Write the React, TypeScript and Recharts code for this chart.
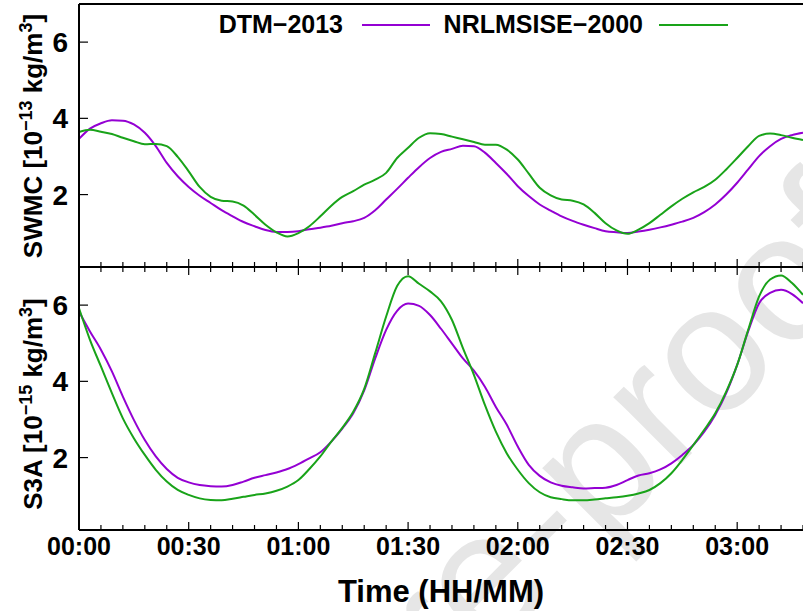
import React from 'react'
import { LineChart, Line, XAxis, YAxis } from 'recharts'

// time axis in minutes after 00:00, one sample every 3 minutes
const minutes = [
  0, 3, 6, 9, 12, 15, 18, 21, 24, 27, 30, 33, 36, 39, 42, 45, 48, 51, 54, 57,
  60, 63, 66, 69, 72, 75, 78, 81, 84, 87, 90, 93, 96, 99, 102, 105, 108, 111, 114, 117,
  120, 123, 126, 129, 132, 135, 138, 141, 144, 147, 150, 153, 156, 159, 162, 165, 168, 171, 174, 177,
  180, 183, 186, 189, 192, 195, 198,
]

// SWMC density [1e-13 kg/m^3]
const dtmSwmc = [
  3.46, 3.73, 3.87, 3.95, 3.94, 3.84, 3.62, 3.27, 2.83, 2.48, 2.2, 1.97, 1.78, 1.59, 1.43, 1.28, 1.17, 1.07, 1.02, 1.02,
  1.04, 1.09, 1.13, 1.18, 1.25, 1.3, 1.39, 1.59, 1.87, 2.15, 2.44, 2.72, 2.96, 3.12, 3.2, 3.28, 3.27, 3.1, 2.83, 2.54,
  2.22, 1.96, 1.74, 1.58, 1.43, 1.31, 1.21, 1.12, 1.04, 1.01, 0.99, 1.03, 1.08, 1.14, 1.21, 1.29, 1.39, 1.54, 1.74, 2.0,
  2.31, 2.66, 3.01, 3.27, 3.46, 3.56, 3.62,
]
const nrlSwmc = [
  3.64, 3.7, 3.65, 3.59, 3.49, 3.4, 3.32, 3.33, 3.27, 2.99, 2.61, 2.2, 1.94, 1.84, 1.82, 1.71, 1.47, 1.21, 1.01, 0.9,
  0.99, 1.17, 1.43, 1.71, 1.94, 2.09, 2.26, 2.39, 2.57, 2.96, 3.23, 3.49, 3.61, 3.59, 3.52, 3.45, 3.38, 3.31, 3.31, 3.18,
  2.92, 2.55, 2.18, 1.98, 1.87, 1.84, 1.74, 1.52, 1.25, 1.06, 0.97, 1.08, 1.25, 1.47, 1.69, 1.89, 2.06, 2.2, 2.39, 2.66,
  2.96, 3.27, 3.54, 3.6, 3.56, 3.49, 3.43,
]

// S3A density [1e-15 kg/m^3]
const dtmS3a = [
  5.83, 5.31, 4.83, 4.26, 3.6, 2.99, 2.46, 2.03, 1.7, 1.47, 1.35, 1.28, 1.25, 1.24, 1.28, 1.37, 1.47, 1.54, 1.61, 1.7,
  1.83, 1.98, 2.14, 2.42, 2.76, 3.16, 3.76, 4.6, 5.35, 5.85, 6.04, 5.98, 5.74, 5.38, 4.99, 4.6, 4.28, 3.86, 3.33, 2.86,
  2.29, 1.81, 1.52, 1.35, 1.26, 1.22, 1.19, 1.2, 1.21, 1.28, 1.41, 1.53, 1.59, 1.69, 1.85, 2.07, 2.33, 2.68, 3.12, 3.69,
  4.43, 5.31, 6.05, 6.32, 6.4, 6.29, 6.05,
]
const nrlS3a = [
  5.92, 5.09, 4.39, 3.69, 3.03, 2.51, 2.07, 1.68, 1.37, 1.15, 1.02, 0.93, 0.89, 0.88, 0.92, 0.97, 1.02, 1.06, 1.13, 1.24,
  1.41, 1.7, 2.03, 2.42, 2.78, 3.2, 3.8, 4.74, 5.7, 6.5, 6.76, 6.56, 6.36, 6.1, 5.61, 4.87, 4.17, 3.38, 2.68, 2.11,
  1.68, 1.33, 1.09, 0.96, 0.91, 0.88, 0.88, 0.9, 0.93, 0.96, 1.0, 1.06, 1.15, 1.33, 1.59, 1.94, 2.33, 2.73, 3.16, 3.73,
  4.43, 5.35, 6.23, 6.67, 6.78, 6.58, 6.27,
]

const minorTicks = [
  0, 6, 12, 18, 24, 30, 36, 42, 48, 54, 60, 66, 72, 78, 84, 90, 96, 102, 108, 114,
  120, 126, 132, 138, 144, 150, 156, 162, 168, 174, 180, 186, 192, 198,
]
const majorTicks = [0, 30, 60, 90, 120, 150, 180]
const timeLabels = ['00:00', '00:30', '01:00', '01:30', '02:00', '02:30', '03:00']
const densityTicks = [2, 4, 6]
const seriesNames = ['DTM\u22122013', 'NRLMSISE\u22122000']
const seriesColors = ['#9400d3', '#19a319']

const FONT = '"Liberation Sans", Arial, Helvetica, sans-serif'
const W = 803

const swmcData = minutes.map((t, i) => ({ t, dtm: dtmSwmc[i], nrl: nrlSwmc[i] }))
const s3aData = minutes.map((t, i) => ({ t, dtm: dtmS3a[i], nrl: nrlS3a[i] }))

const makeTimeTick = (dir: number, labels: boolean) => (props: any) => {
  const { x, y, payload } = props
  const idx = majorTicks.indexOf(payload.value)
  const len = idx >= 0 ? 8 : 5
  return (
    <g>
      <line x1={x} x2={x} y1={y} y2={y + dir * len} stroke="#000" strokeWidth={1.2} />
      {labels && idx >= 0 && (
        <text x={x} y={y + 25} textAnchor="middle" fontSize={25} fontWeight="bold" fontFamily={FONT} fill="#000">
          {timeLabels[idx]}
        </text>
      )}
    </g>
  )
}

const DensityTick = (props: any) => {
  const { x, y, payload } = props
  return (
    <g>
      <line x1={x} x2={x + 9} y1={y} y2={y} stroke="#000" strokeWidth={1.2} />
      <text x={x - 11} y={y + 10} textAnchor="end" fontSize={28} fontWeight="bold" fontFamily={FONT} fill="#000">
        {payload.value}
      </text>
    </g>
  )
}

const axisLine = { stroke: '#000', strokeWidth: 2 }

const Panel = ({ data, bottom }: { data: any[]; bottom: boolean }) => (
  <LineChart
    width={W}
    height={bottom ? 348 : 268}
    data={data}
    margin={{ top: 3, right: 0, bottom: 0, left: 0 }}
  >
    <XAxis
      dataKey="t"
      type="number"
      domain={[0, 198]}
      ticks={minorTicks}
      interval={0}
      height={bottom ? 81 : 1}
      tickSize={0}
      tickMargin={0}
      tickLine={false}
      axisLine={axisLine}
      tick={makeTimeTick(-1, bottom)}
      label={
        bottom
          ? {
              content: (p: any) => {
                const vb = p.viewBox
                return (
                  <text
                    x={vb.x + vb.width / 2}
                    y={vb.y + 72}
                    textAnchor="middle"
                    fontSize={31}
                    fontWeight="bold"
                    fontFamily={FONT}
                    fill="#000"
                  >
                    Time (HH/MM)
                  </text>
                )
              },
            }
          : undefined
      }
    />
    <XAxis
      xAxisId="top"
      orientation="top"
      dataKey="t"
      type="number"
      domain={[0, 198]}
      ticks={minorTicks}
      interval={0}
      height={1}
      tickSize={0}
      tickMargin={0}
      tickLine={false}
      axisLine={axisLine}
      tick={bottom ? makeTimeTick(1, false) : false}
    />
    <YAxis
      width={79}
      type="number"
      domain={[0.1, 7]}
      ticks={densityTicks}
      interval={0}
      tickSize={0}
      tickMargin={0}
      tickLine={false}
      axisLine={axisLine}
      tick={DensityTick}
      allowDataOverflow
    />
    <Line dataKey="dtm" type="monotone" stroke={seriesColors[0]} strokeWidth={2} dot={false} isAnimationActive={false} />
    <Line dataKey="nrl" type="monotone" stroke={seriesColors[1]} strokeWidth={2} dot={false} isAnimationActive={false} />
  </LineChart>
)

const YLabel = ({ cy, name, exp }: { cy: number; name: string; exp: string }) => (
  <text
    x={42}
    y={cy}
    transform={`rotate(-90 42 ${cy})`}
    textAnchor="middle"
    fontSize={26}
    fontWeight="bold"
    fontFamily={FONT}
    fill="#000"
  >
    <tspan>{name} [10</tspan>
    <tspan dy={-10} fontSize={18}>{exp}</tspan>
    <tspan dy={10}> kg/m</tspan>
    <tspan dy={-10} fontSize={18}>3</tspan>
    <tspan dy={10}>]</tspan>
  </text>
)

export default function App() {
  return (
    <div style={{ position: 'absolute', left: 0, top: 0, width: W, height: 611, overflow: 'hidden', background: '#fff' }}>
      <svg width={W} height={611} style={{ position: 'absolute', left: 0, top: 0 }}>
        <text
          x={-92}
          y={1237}
          transform="rotate(-45 -92 1237)"
          fontSize={180}
          fontFamily={FONT}
          fill="#e6e6e6"
        >
          Journal Pre-proof
        </text>
      </svg>
      <div style={{ position: 'absolute', left: 0, top: 0 }}>
        <Panel data={swmcData} bottom={false} />
      </div>
      <div style={{ position: 'absolute', left: 0, top: 263 }}>
        <Panel data={s3aData} bottom={true} />
      </div>
      <svg width={W} height={611} style={{ position: 'absolute', left: 0, top: 0, pointerEvents: 'none' }}>
        <YLabel cy={136} name="SWMC" exp={'\u221213'} />
        <YLabel cy={404} name="S3A" exp={'\u221215'} />
        <text x={343} y={33} textAnchor="end" fontSize={25} fontWeight="bold" fontFamily={FONT} fill="#000">
          {seriesNames[0]}
        </text>
        <line x1={362} x2={430} y1={25} y2={25} stroke={seriesColors[0]} strokeWidth={2} />
        <text x={643} y={33} textAnchor="end" fontSize={25} fontWeight="bold" fontFamily={FONT} fill="#000">
          {seriesNames[1]}
        </text>
        <line x1={659} x2={728} y1={25} y2={25} stroke={seriesColors[1]} strokeWidth={2} />
      </svg>
    </div>
  )
}
